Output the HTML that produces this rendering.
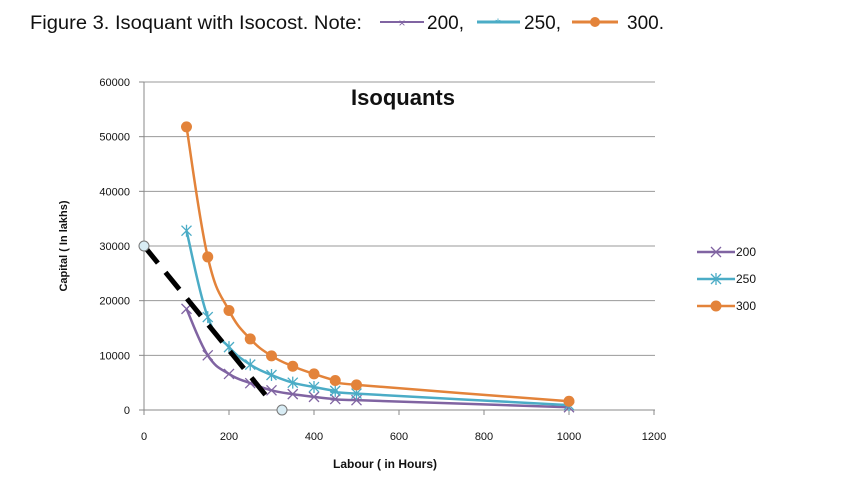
<!DOCTYPE html>
<html><head><meta charset="utf-8"><style>
body{margin:0;background:#fff;width:859px;height:504px;overflow:hidden}
svg{display:block}
text{font-family:"Liberation Sans",Arial,sans-serif}
</style></head><body>
<svg id="s" width="859" height="504" xmlns="http://www.w3.org/2000/svg">
<text x="30" y="29" font-size="19" fill="#111" textLength="332" lengthAdjust="spacingAndGlyphs">Figure 3. Isoquant with Isocost. Note:</text>
<line x1="380" y1="22" x2="424" y2="22" stroke="#8064a2" stroke-width="2"/>
<text x="402" y="27" font-size="12" fill="#8064a2" text-anchor="middle">×</text>
<text x="427" y="29" font-size="19" fill="#111">200,</text>
<line x1="477" y1="22" x2="520" y2="22" stroke="#4bacc6" stroke-width="3"/>
<text x="498" y="28" font-size="14" fill="#4bacc6" text-anchor="middle">*</text>
<text x="524" y="29" font-size="19" fill="#111">250,</text>
<line x1="572" y1="22" x2="618" y2="22" stroke="#e3833a" stroke-width="3"/>
<circle cx="595" cy="22" r="5" fill="#e3833a"/>
<text x="627" y="29" font-size="19" fill="#111">300.</text>
<g id="grid"></g>
<text x="403" y="105" font-size="22" font-weight="bold" fill="#111" text-anchor="middle">Isoquants</text>
<text transform="translate(67,246) rotate(-90)" font-size="11" font-weight="bold" fill="#111" text-anchor="middle">Capital ( In lakhs)</text>
<text x="385" y="468" font-size="12" font-weight="bold" fill="#111" text-anchor="middle">Labour ( in Hours)</text>
<g id="series"></g>
</svg>
<script>
const NS="http://www.w3.org/2000/svg";
const X=v=>144+v*0.425, Y=v=>410-v*328/60000;
function el(p,t,a,txt){const e=document.createElementNS(NS,t);for(const k in a)e.setAttribute(k,a[k]);if(txt!=null)e.textContent=txt;p.appendChild(e);return e;}
const g=document.getElementById('grid'),s=document.getElementById('series');
for(let i=0;i<=6;i++){const y=Y(i*10000);el(g,'line',{x1:144,x2:655,y1:y,y2:y,stroke:i?'#999':'#888','stroke-width':1});
el(g,'text',{x:130,y:y+4,'font-size':11,'text-anchor':'end',fill:'#111'},String(i*10000));el(g,'line',{x1:139,x2:144,y1:y,y2:y,stroke:'#888'});}
el(g,'line',{x1:144,x2:144,y1:82,y2:410,stroke:'#888'});
for(let i=0;i<=6;i++){const x=X(i*200);el(g,'line',{x1:x,x2:x,y1:410,y2:415,stroke:'#888'});el(g,'text',{x:x,y:440,'font-size':11,'text-anchor':'middle',fill:'#111'},String(i*200));}
const xs=[100,150,200,250,300,350,400,450,500,1000];
const data=[
{c:'#8064a2',w:2.5,m:'x',v:[18500,10000,6600,4900,3600,2900,2400,2000,1800,500],ly:252,n:'200'},
{c:'#4bacc6',w:2.5,m:'*',v:[32800,17000,11500,8300,6400,5000,4200,3500,3000,900],ly:279,n:'250'},
{c:'#e3833a',w:2.5,m:'o',v:[51800,28000,18200,13000,9900,8000,6600,5400,4600,1600],ly:306,n:'300'}];
function path(p){let d=`M${p[0][0]},${p[0][1]}`;for(let i=0;i<p.length-1;i++){const p0=p[i-1]||p[i],p1=p[i],p2=p[i+1],p3=p[i+2]||p2;const t=0.2;
d+=`C${p1[0]+(p2[0]-p0[0])*t},${p1[1]+(p2[1]-p0[1])*t} ${p2[0]-(p3[0]-p1[0])*t},${p2[1]-(p3[1]-p1[1])*t} ${p2[0]},${p2[1]}`;}return d;}
function marker(x,y,d){if(d.m=='o')el(s,'circle',{cx:x,cy:y,r:5.5,fill:d.c});
else{el(s,'path',{d:`M${x-5},${y-5}L${x+5},${y+5}M${x-5},${y+5}L${x+5},${y-5}`+(d.m=='*'?`M${x},${y-6}L${x},${y+6}`:''),stroke:d.c,'stroke-width':1.3});}}
for(const d of data){const p=xs.map((x,i)=>[X(x),Y(d.v[i])]);el(s,'path',{d:path(p),fill:'none',stroke:d.c,'stroke-width':d.w});p.forEach(q=>marker(q[0],q[1],d));
el(s,'line',{x1:697,x2:735,y1:d.ly,y2:d.ly,stroke:d.c,'stroke-width':2.5});marker(716,d.ly,d);
el(s,'text',{x:736,y:d.ly+4,'font-size':12,fill:'#111'},d.n);}
el(s,'line',{x1:144,y1:246,x2:268,y2:398,stroke:'#000','stroke-width':5,'stroke-dasharray':'22,12'});
el(s,'circle',{cx:144,cy:246,r:5,fill:'#d8ecf4',stroke:'#777'});
el(s,'circle',{cx:282,cy:410,r:5,fill:'#d8ecf4',stroke:'#777'});
</script>
</body></html>
